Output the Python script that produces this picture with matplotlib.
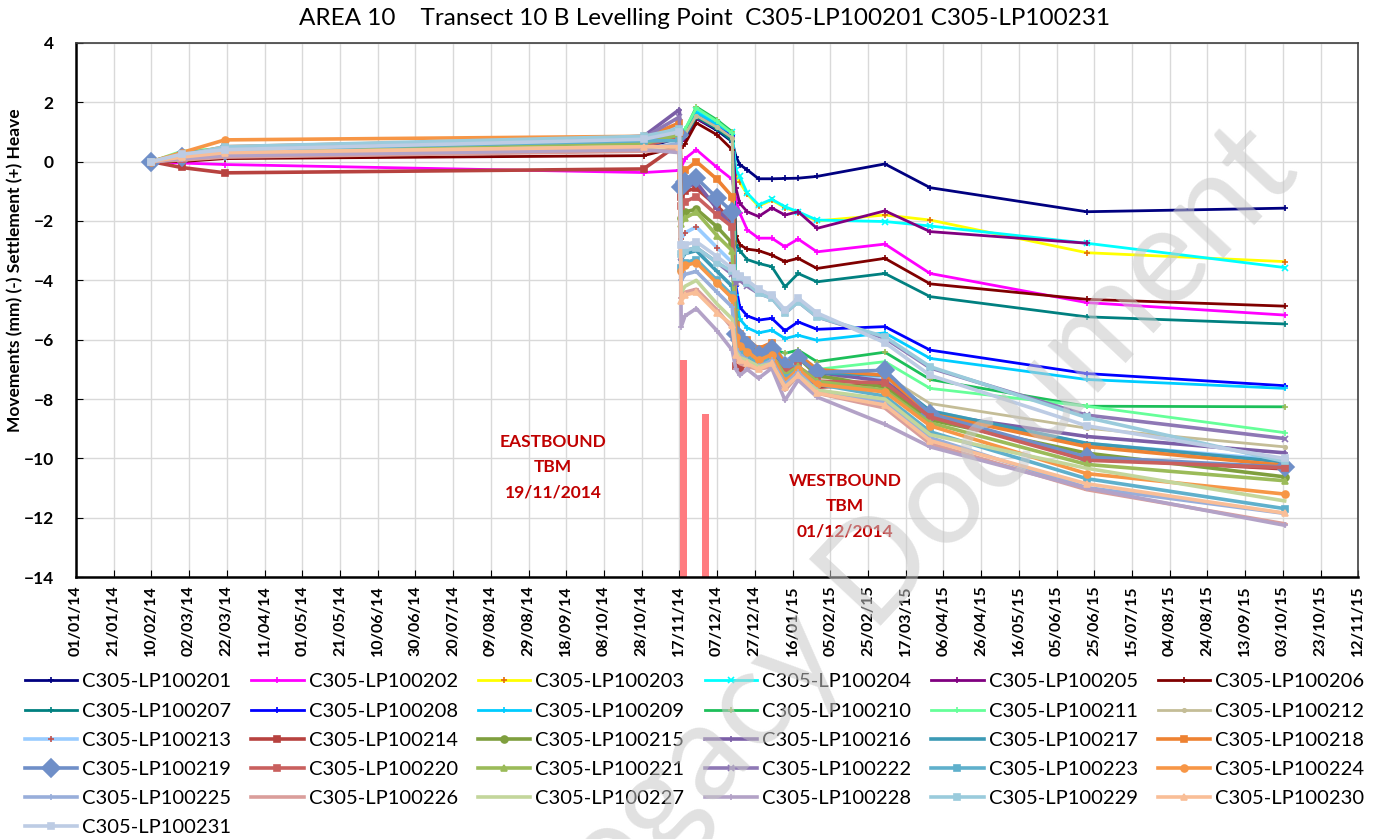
import matplotlib
matplotlib.use("Agg")
import matplotlib.pyplot as plt
import matplotlib.dates as mdates
import numpy as np
import pandas as pd

plt.rcParams["font.family"] = ["Lato", "DejaVu Sans"]

# survey dates (shared by all levelling points)
dates = pd.to_datetime([
    "2014-02-10", "2014-02-26", "2014-03-21", "2014-10-29", "2014-11-17",
    "2014-11-18", "2014-11-20", "2014-11-26", "2014-12-07", "2014-12-15",
    "2014-12-17", "2014-12-19", "2014-12-23", "2014-12-29", "2015-01-05",
    "2015-01-12", "2015-01-19", "2015-01-29", "2015-03-06", "2015-03-30",
    "2015-06-21", "2015-10-04",
])
nan = np.nan

LP100201 = [0.0, 0.05, 0.15, 0.45, 0.8, 0.7, 0.8, 1.45, 1.05, 0.67, 0.17, -0.1, -0.28, -0.58, -0.58, -0.57, -0.56, -0.5, -0.08, -0.88, -1.69, -1.57]
LP100202 = [0.0, -0.05, -0.1, -0.37, -0.3, -0.2, 0.1, 0.4, -0.2, -0.6, -1.3, -1.73, -2.3, -2.58, -2.58, -2.87, -2.61, -3.04, -2.78, -3.77, -4.75, -5.17]
LP100203 = [0.0, 0.1, 0.25, 0.55, 0.95, 0.8, 0.9, 1.6, 1.2, 0.9, -0.4, -0.7, -1.1, -1.5, -1.3, -1.55, -1.72, -2.0, -1.8, -1.97, -3.07, -3.37]
LP100204 = [0.0, 0.15, 0.3, 0.7, 1.15, 0.9, 1.0, 1.75, 1.3, 1.0, -0.3, -0.5, -1.06, -1.46, -1.27, -1.52, -1.69, -1.97, -2.02, -2.17, -2.75, -3.57]
LP100205 = [0.0, 0.05, 0.2, 0.5, 0.85, 0.7, 0.8, 1.45, 1.1, 0.8, -0.9, -1.4, -1.69, -1.85, -1.56, -1.8, -1.69, -2.25, -1.66, -2.36, -2.75, nan]
LP100206 = [0.0, 0.0, 0.1, 0.2, 0.5, 0.45, 0.6, 1.3, 0.9, 0.4, -2.5, -2.8, -2.95, -3.0, -3.15, -3.37, -3.26, -3.6, -3.26, -4.12, -4.64, -4.87]
LP100207 = [0.0, 0.1, 0.25, 0.5, 0.9, 0.75, 0.85, 1.5, 1.1, 0.7, -2.8, -3.0, -3.3, -3.43, -3.54, -4.22, -3.77, -4.05, -3.77, -4.55, -5.23, -5.47]
LP100208 = [0.0, 0.1, 0.3, 0.65, 1.05, 0.8, 0.9, 1.6, 1.2, 0.85, -4.2, -4.9, -5.2, -5.34, -5.28, -5.7, -5.4, -5.65, -5.56, -6.35, -7.14, -7.55]
LP100209 = [0.0, 0.15, 0.35, 0.7, 1.1, 0.85, 0.95, 1.65, 1.25, 0.95, -4.5, -5.3, -5.6, -5.77, -5.68, -5.96, -5.85, -6.02, -5.77, -6.63, -7.34, -7.64]
LP100210 = [0.0, 0.3, 0.4, 0.75, 1.2, 0.95, 1.05, 1.84, 1.4, 1.0, -5.0, -5.9, -6.3, -6.45, -6.3, -6.46, -6.35, -6.74, -6.42, -7.34, -8.24, -8.26]
LP100211 = [0.0, 0.35, 0.45, 0.8, 1.25, 1.0, 1.1, 1.8, 1.35, 0.95, -5.3, -6.1, -6.5, -6.6, -6.5, -6.8, -6.6, -7.0, -6.74, -7.64, -8.24, -9.13]
LP100212 = [0.0, 0.2, 0.35, 0.6, 1.0, 0.8, 0.9, 1.55, 1.15, 0.8, -5.6, -6.3, -6.7, -6.85, -6.7, -7.1, -6.9, -7.3, -7.2, -8.15, -8.98, -9.61]
LP100213 = [0.0, 0.2, 0.4, 0.7, 1.2, -2.6, -2.4, -2.2, -2.9, -3.4, -5.6, -5.9, -6.1, -6.4, -6.2, -6.7, -6.5, -7.0, -7.3, -8.4, -9.5, -10.06]
LP100214 = [0.0, -0.2, -0.38, -0.25, 0.6, -1.2, -1.0, -0.9, -1.5, -2.0, -6.9, -7.0, -6.8, -6.9, -6.7, -7.2, -7.0, -7.6, -7.5, -8.6, -10.0, -10.35]
LP100215 = [0.0, 0.2, 0.3, 0.6, 1.0, -1.9, -1.7, -1.6, -2.2, -2.75, -5.8, -6.0, -6.2, -6.5, -6.3, -6.9, -6.6, -7.2, -7.6, -8.7, -9.82, -10.62]
LP100216 = [0.0, 0.15, 0.35, 0.85, 1.75, -1.0, -0.9, -0.7, -1.6, -2.2, -5.9, -6.1, -6.3, -6.5, -6.4, -6.9, -6.6, -7.1, -7.4, -8.5, -9.26, -9.81]
LP100217 = [0.0, 0.25, 0.45, 0.75, 1.1, -3.3, -3.1, -3.0, -3.7, -4.2, -5.7, -5.9, -6.1, -6.4, -6.2, -6.8, -6.5, -7.1, -7.2, -8.4, -9.49, -10.12]
LP100218 = [0.0, 0.2, 0.5, 0.8, 1.3, -0.5, -0.3, 0.0, -0.6, -1.18, -5.5, -5.8, -6.0, -6.3, -6.1, -6.8, -6.5, -7.0, -7.2, -8.5, -9.6, -10.23]
LP100219 = [0.0, 0.15, 0.35, 0.65, 0.9, -0.85, -0.7, -0.55, -1.23, -1.69, -5.8, -6.0, -6.2, -6.5, -6.3, -6.9, -6.6, -7.1, -7.03, -8.5, -9.95, -10.29]
LP100220 = [0.0, 0.1, 0.25, 0.55, 0.8, -1.5, -1.35, -1.18, -1.8, -2.2, -6.3, -6.5, -6.6, -6.8, -6.6, -7.1, -6.9, -7.4, -7.45, -8.6, -10.06, -10.31]
LP100221 = [0.0, 0.25, 0.3, 0.6, 0.9, -2.1, -1.9, -1.7, -2.5, -3.0, -6.0, -6.2, -6.4, -6.7, -6.5, -7.2, -6.9, -7.4, -7.7, -8.8, -10.2, -10.75]
LP100222 = [0.0, 0.2, 0.45, 0.8, 1.5, -3.2, -3.0, -2.9, -3.4, -3.8, -4.1, -4.0, -4.2, -4.44, -4.6, -5.11, -4.72, -5.23, -5.95, -6.95, -8.54, -9.33]
LP100223 = [0.0, 0.25, 0.4, 0.7, 0.7, -3.6, -3.4, -3.3, -4.0, -4.5, -6.2, -6.4, -6.6, -6.8, -6.6, -7.3, -7.0, -7.5, -7.9, -9.1, -10.68, -11.69]
LP100224 = [0.0, 0.3, 0.73, 0.85, 1.0, -3.7, -3.5, -3.4, -4.1, -4.6, -5.9, -6.2, -6.4, -6.7, -6.5, -7.4, -7.0, -7.5, -7.76, -8.9, -10.51, -11.2]
LP100225 = [0.0, 0.1, 0.2, 0.45, 0.6, -4.0, -3.8, -3.7, -4.4, -4.9, -6.3, -6.5, -6.7, -6.9, -6.7, -7.5, -7.1, -7.7, -8.1, -9.3, -10.98, -11.85]
LP100226 = [0.0, 0.05, 0.15, 0.35, 0.4, -4.6, -4.4, -4.3, -5.0, -5.6, -6.6, -6.8, -6.9, -7.0, -6.9, -7.7, -7.2, -7.8, -8.3, -9.5, -11.05, -12.2]
LP100227 = [0.0, 0.2, 0.3, 0.5, 0.5, -4.4, -4.2, -4.0, -4.8, -5.3, -6.4, -6.6, -6.7, -6.9, -6.8, -7.6, -7.2, -7.7, -8.0, -9.2, -10.33, -11.43]
LP100228 = [0.0, 0.1, 0.2, 0.4, 0.3, -5.56, -5.2, -4.95, -5.7, -6.35, -7.0, -7.2, -7.0, -7.3, -6.96, -8.04, -7.36, -7.93, -8.85, -9.61, -11.0, -12.25]
LP100229 = [0.0, 0.2, 0.5, 0.85, 1.1, -3.1, -3.0, -2.9, -3.4, -3.7, -3.9, -3.9, -4.1, -4.44, -4.6, -5.11, -4.72, -5.23, -5.9, -6.91, -8.62, -10.1]
LP100230 = [0.0, 0.15, 0.3, 0.5, 0.5, -4.7, -4.5, -4.4, -5.1, -5.5, -6.5, -6.7, -6.8, -7.0, -6.8, -7.6, -7.2, -7.8, -8.2, -9.4, -10.85, -11.84]
LP100231 = [0.0, 0.25, 0.4, 0.75, 1.0, -2.8, -2.8, -2.7, -3.2, -3.6, -3.8, -3.85, -4.0, -4.3, -4.5, -5.0, -4.6, -5.1, -6.1, -7.2, -8.9, -10.0]

series = [LP100201, LP100202, LP100203, LP100204, LP100205, LP100206, LP100207,
          LP100208, LP100209, LP100210, LP100211, LP100212, LP100213, LP100214,
          LP100215, LP100216, LP100217, LP100218, LP100219, LP100220, LP100221,
          LP100222, LP100223, LP100224, LP100225, LP100226, LP100227, LP100228,
          LP100229, LP100230, LP100231]
labels = [f"C305-LP1002{i:02d}" for i in range(1, 32)]

colors = ["#000080", "#FF00FF", "#FFFF00", "#00FFFF", "#800080", "#800000", "#008080",
          "#0000FF", "#00CCFF", "#1DBF5A", "#66FF99", "#C4BD97", "#99CCFF", "#B7423F",
          "#7F9F3E", "#7B5EA7", "#3C9AB5", "#EE8232", "#6F8FC8", "#C9605E", "#9BBB59",
          "#8E78B5", "#5FB0CC", "#F79646", "#98AEDA", "#DA9E9B", "#C3D69B", "#B3A2C7",
          "#9ACBDC", "#F9BE97", "#BDCCE4"]
markers = ["+", "+", "+", "x", "+", "+", "+", "+", "+", "+", "+", ".", "+", "s",
           "o", "+", "_", "s", "D", "s", "^", "x", "s", "o", "+", "_", "", "+",
           "s", "^", "s"]
marker_colors = {2: "#E46C0A", 12: "#C0504D", 9: "#9BBB59"}

# TBM passing bars
tbm_dates = pd.to_datetime(["2014-11-19", "2014-12-01"])
tbm_tops = [-6.7, -8.5]

fig = plt.figure(figsize=(13.81, 8.39), dpi=100)
ax = fig.add_axes([0.055, 0.312, 0.9285, 0.637])

ax.bar(tbm_dates, [t + 14 for t in tbm_tops], bottom=-14, width=3.6,
       color="#FF7C80", zorder=2)

handles = []
for i, (vals, lab) in enumerate(zip(series, labels)):
    y = np.array(vals, dtype=float)
    ok = ~np.isnan(y)
    lw = 2.0 if i < 12 else 2.6
    ms = 9 if markers[i] == "D" else 5
    mc = marker_colors.get(i, colors[i])
    h, = ax.plot(dates[ok], y[ok], color=colors[i], lw=lw, marker=markers[i] or None,
                 ms=ms, mec=mc, mfc=mc, mew=1.2, label=lab, zorder=3 + i * 0.01)
    handles.append(h)

ax.set_xlim(pd.Timestamp("2014-01-01"), pd.Timestamp("2015-11-12"))
ax.set_ylim(-14, 4)
ax.set_yticks(range(-14, 5, 2))
ax.set_xticks(pd.date_range("2014-01-01", "2015-11-12", freq="20D"))
ax.xaxis.set_major_formatter(mdates.DateFormatter("%d/%m/%y"))
ax.tick_params(axis="x", rotation=90, labelsize=11.5, direction="in", length=5, pad=6)
ax.tick_params(axis="y", labelsize=12.5, direction="in", length=5, pad=16)
for lbl in ax.get_xticklabels() + ax.get_yticklabels():
    lbl.set_fontweight("bold")
ax.grid(True, color="#D9D9D9", lw=1.0)
ax.set_axisbelow(True)
for s in ax.spines.values():
    s.set_color("#404040")
    s.set_linewidth(1.2)
ax.spines["left"].set_color("black")
ax.spines["bottom"].set_color("black")
ax.spines["left"].set_linewidth(1.8)
ax.spines["bottom"].set_linewidth(1.8)

ax.text(pd.Timestamp("2014-09-11"), -10.3, "EASTBOUND\nTBM\n19/11/2014", color="#C00000",
        fontsize=12.5, fontweight="bold", ha="center", va="center", linespacing=1.7)
ax.text(pd.Timestamp("2015-02-13"), -11.6, "WESTBOUND\nTBM\n01/12/2014", color="#C00000",
        fontsize=12.5, fontweight="bold", ha="center", va="center", linespacing=1.7)

fig.text(0.51, 0.978, "AREA 10    Transect 10 B Levelling Point  C305-LP100201 C305-LP100231",
         ha="center", va="center", fontsize=17.5)
fig.text(0.011, 0.678, "Movements (mm) (-) Settlement (+) Heave", rotation=90,
         ha="center", va="center", fontsize=12.5, fontweight="bold")

# legend filled row by row like the original
order = [j for c in range(6) for j in range(c, 31, 6)]
fig.legend([handles[j] for j in order], [labels[j] for j in order], ncol=6,
           loc="upper left", bbox_to_anchor=(0.012, 0.207), frameon=False,
           fontsize=14.5, handlelength=2.6, handletextpad=0.25, columnspacing=1.0,
           labelspacing=0.6, borderaxespad=0)

fig.text(0.657, 0.352, "Legacy Document", rotation=47, ha="center", va="center",
         fontsize=98, color="#C8C8C8", alpha=0.55, zorder=20)

fig.savefig("out.png", dpi=100)
